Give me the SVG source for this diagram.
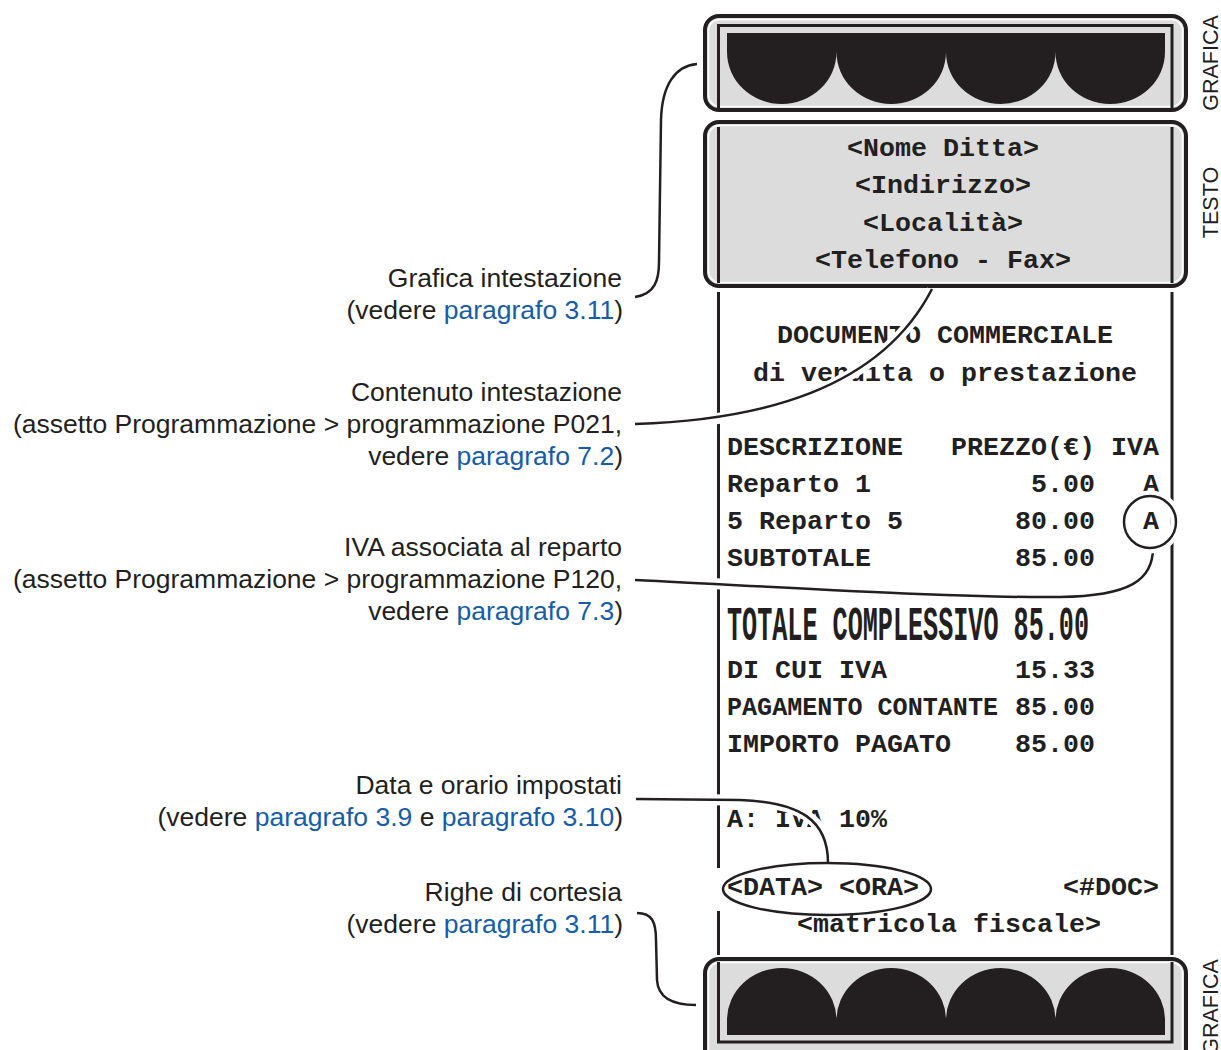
<svg xmlns="http://www.w3.org/2000/svg" width="1221" height="1050" viewBox="0 0 1221 1050">
<defs>
<style>
.lbl{font-family:"Liberation Sans",Arial,sans-serif;font-size:26.5px;fill:#231f20;text-anchor:end}
.lk{fill:#165ca8}
.side{font-family:"Liberation Sans",Arial,sans-serif;font-size:21.5px;fill:#231f20;text-anchor:middle}
.mono{font-family:"Liberation Mono","Courier New",monospace;font-weight:bold;font-size:26.67px;fill:#231f20}
.mid{text-anchor:middle}
.box{fill:#dcdcdc;stroke:#231f20;stroke-width:4}
.inner{fill:none;stroke:#fff;stroke-width:1.5}
.edge{stroke:#231f20;stroke-width:3;fill:none}
.ink{fill:#231f20}
.halo{fill:none;stroke:#fff;stroke-width:11}
.line{fill:none;stroke:#231f20;stroke-width:2.5}
</style>
</defs>
<rect width="1221" height="1050" fill="#fff"/>

<g id="graphic-top">
<rect class="box" x="705" y="16" width="481" height="94" rx="14"/>
<rect class="inner" x="708.5" y="19.5" width="474" height="87" rx="11"/>
<path class="edge" d="M718.5,108 V25.5 H1172 V108"/>
<path class="ink" d="M727,33 H1165 V52 A54.75,52 0 0 1 1055.5,52 A54.75,52 0 0 1 946,52 A54.75,52 0 0 1 836.5,52 A54.75,52 0 0 1 727,52 Z"/>
<text class="side" transform="translate(1218 63) rotate(-90)">GRAFICA</text>
</g>

<g id="text-header">
<rect class="box" x="705" y="122" width="481" height="164" rx="14"/>
<rect class="inner" x="708.5" y="125.5" width="474" height="157" rx="11"/>
<path class="edge" d="M718.5,127 V283 M1172,127 V283"/>
<text class="mono mid" x="943" y="156">&lt;Nome Ditta&gt;</text>
<text class="mono mid" x="943" y="193">&lt;Indirizzo&gt;</text>
<text class="mono mid" x="943" y="231">&lt;Località&gt;</text>
<text class="mono mid" x="943" y="268">&lt;Telefono - Fax&gt;</text>
<text class="side" transform="translate(1218 202.5) rotate(-90)">TESTO</text>
</g>

<g id="receipt-body">
<path class="edge" d="M718.5,292 V955 M1172,292 V955"/>
<text class="mono mid" x="945" y="343">DOCUMENTO COMMERCIALE</text>
<text class="mono mid" x="945" y="381">di vendita o prestazione</text>
<text class="mono" x="727" y="455">DESCRIZIONE</text>
<text class="mono" x="951" y="455">PREZZO(€)</text>
<text class="mono" x="1111" y="455">IVA</text>
<text class="mono" x="727" y="492">Reparto 1</text>
<text class="mono" x="1031" y="492">5.00</text>
<text class="mono" x="1143" y="492">A</text>
<text class="mono" x="727" y="529">5 Reparto 5</text>
<text class="mono" x="1015" y="529">80.00</text>
<text class="mono" x="1143" y="529">A</text>
<text class="mono" x="727" y="566">SUBTOTALE</text>
<text class="mono" x="1015" y="566">85.00</text>
<text class="mono" transform="translate(727 640) scale(1 1.8)" x="0" y="0" font-size="25" textLength="362" lengthAdjust="spacingAndGlyphs">TOTALE COMPLESSIVO 85.00</text>
<text class="mono" x="727" y="678">DI CUI IVA</text>
<text class="mono" x="1015" y="678">15.33</text>
<text class="mono" x="727" y="715" textLength="271" lengthAdjust="spacingAndGlyphs">PAGAMENTO CONTANTE</text>
<text class="mono" x="1015" y="715">85.00</text>
<text class="mono" x="727" y="752">IMPORTO PAGATO</text>
<text class="mono" x="1015" y="752">85.00</text>
<text class="mono" x="727" y="827">A: IVA 10%</text>
<text class="mono" x="727" y="895">&lt;DATA&gt;</text>
<text class="mono" x="839" y="895">&lt;ORA&gt;</text>
<text class="mono" x="1063" y="895">&lt;#DOC&gt;</text>
<text class="mono mid" x="949" y="932">&lt;matricola fiscale&gt;</text>
</g>

<g id="graphic-bottom">
<rect class="box" x="705" y="959" width="481" height="120" rx="14"/>
<rect class="inner" x="708.5" y="962.5" width="474" height="113" rx="11"/>
<path class="edge" d="M718.5,962 V1042 H1172 V962"/>
<path class="ink" d="M727,1035 V1020 A54.75,52 0 0 1 836.5,1020 A54.75,52 0 0 1 946,1020 A54.75,52 0 0 1 1055.5,1020 A54.75,52 0 0 1 1165,1020 V1035 Z"/>
<text class="side" transform="translate(1218 1007) rotate(-90)">GRAFICA</text>
</g>

<g id="label-grafica">
<text class="lbl" x="622" y="287">Grafica intestazione</text>
<text class="lbl" x="623" y="319">(vedere <tspan class="lk">paragrafo 3.11</tspan>)</text>
</g>
<g id="label-contenuto">
<text class="lbl" x="622" y="401">Contenuto intestazione</text>
<text class="lbl" x="622" y="433">(assetto Programmazione &gt; programmazione P021,</text>
<text class="lbl" x="623" y="465">vedere <tspan class="lk">paragrafo 7.2</tspan>)</text>
</g>
<g id="label-iva">
<text class="lbl" x="622" y="556">IVA associata al reparto</text>
<text class="lbl" x="622" y="588">(assetto Programmazione &gt; programmazione P120,</text>
<text class="lbl" x="623" y="620">vedere <tspan class="lk">paragrafo 7.3</tspan>)</text>
</g>
<g id="label-data">
<text class="lbl" x="622" y="794">Data e orario impostati</text>
<text class="lbl" x="623" y="826">(vedere <tspan class="lk">paragrafo 3.9</tspan> e <tspan class="lk">paragrafo 3.10</tspan>)</text>
</g>
<g id="label-righe">
<text class="lbl" x="622" y="901">Righe di cortesia</text>
<text class="lbl" x="623" y="933">(vedere <tspan class="lk">paragrafo 3.11</tspan>)</text>
</g>

<g id="connectors">
<path class="line" d="M635,297 C655,294 659,280 659,262 L661,120 C662,85 675,66 697,64"/>
<path class="halo" d="M660,423.6 C760,420 880,390 932,290"/>
<path class="line" d="M635,424 C760,420 880,390 932,289"/>
<path class="halo" d="M665,581 C800,588 950,598 1060,597 C1130,596 1153,580 1153,550"/>
<path class="line" d="M635,580 C800,588 950,598 1060,597 C1130,596 1153,580 1153,548"/>
<circle class="halo" cx="1150" cy="522" r="26" stroke-width="8"/>
<circle class="line" cx="1150" cy="522" r="26"/>
<path class="halo" d="M665,799.5 L740,800 C800,802 828,820 828,858"/>
<path class="line" d="M636,799 L740,800 C800,802 828,820 828,863"/>
<path fill="none" stroke="#fff" stroke-width="6" d="M718.5,868 V911"/>
<ellipse class="line" cx="827" cy="889" rx="104" ry="26"/>
<path class="line" d="M637,913 C652,913 656,922 656,940 L657,980 C658,998 672,1005 696,1005"/>
</g>
</svg>
